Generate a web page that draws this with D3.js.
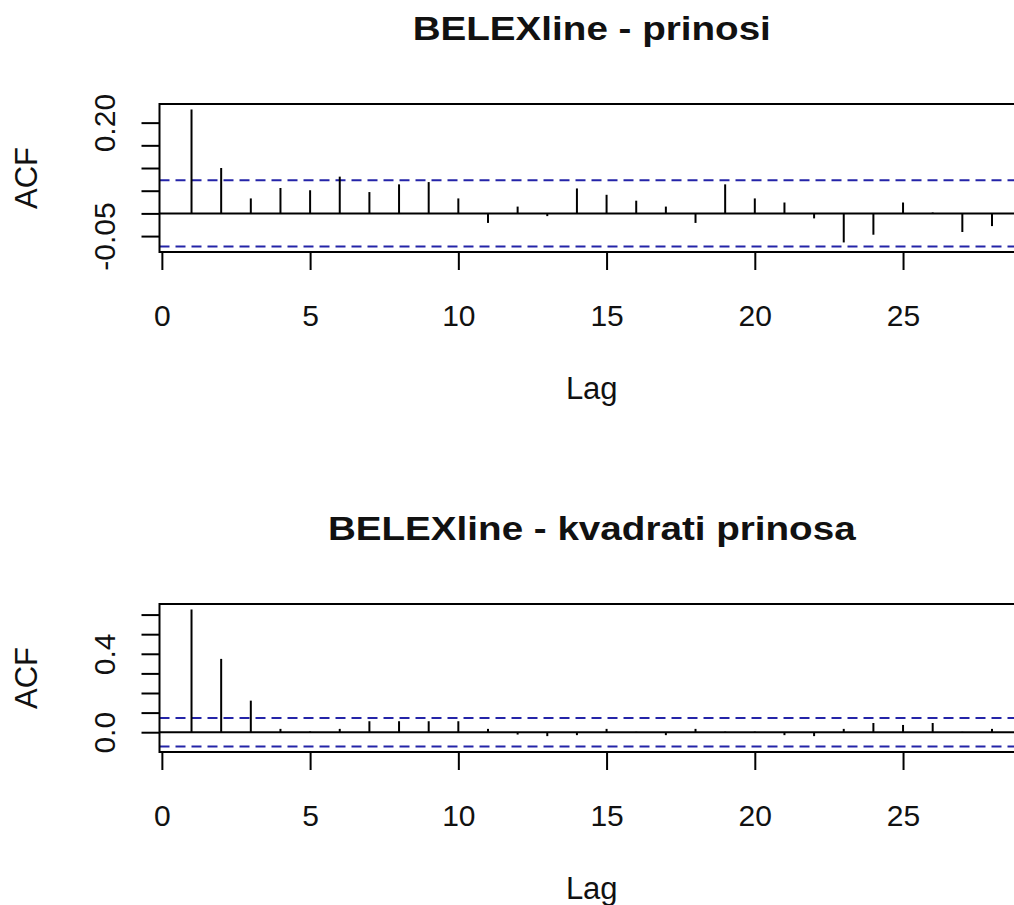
<!DOCTYPE html>
<html>
<head>
<meta charset="utf-8">
<script src="https://cdn.jsdelivr.net/npm/d3@7"></script>
<style>
  body { margin: 0; background: #fff; }
  svg { display: block; font-family: "Liberation Sans", Arial, sans-serif; }
</style>
</head>
<body>
<script>
// data
const lags = [1, 2, 3, 4, 5, 6, 7, 8, 9, 10, 11, 12, 13, 14, 15, 16, 17, 18, 19, 20, 21, 22, 23, 24, 25, 26, 27, 28];
const acfReturns = [0.229, 0.100, 0.033, 0.056, 0.051, 0.081, 0.047, 0.064, 0.069, 0.033, -0.021, 0.015, -0.006, 0.055,
  0.041, 0.028, 0.015, -0.021, 0.064, 0.033, 0.024, -0.011, -0.064, -0.047, 0.024, 0.002, -0.041, -0.028];
const acfSquares = [0.626, 0.374, 0.161, 0.017, 0.004, 0.017, 0.056, 0.056, 0.056, 0.056, 0.017, -0.012, -0.020, -0.015,
  0.017, 0.002, -0.015, 0.017, 0.003, 0.003, -0.015, -0.020, 0.017, 0.047, 0.037, 0.047, 0.002, 0.017];
const confLimit = 0.073;
const xTicks = [0, 5, 10, 15, 20, 25];
const yTicksReturns = [-0.05, 0, 0.05, 0.1, 0.15, 0.2];
const yLabelsReturns = ["-0.05", "", "", "", "", "0.20"];
const yTicksSquares = [0, 0.1, 0.2, 0.3, 0.4, 0.5, 0.6];
const yLabelsSquares = ["0.0", "", "", "", "0.4", "", ""];
const titles = ["BELEXline - prinosi", "BELEXline - kvadrati prinosa"];

const width = 1014;
const height = 905;
const plotLeft = 159.5;
const plotW = 864.5;
const plotTop = 104;
const plotH = 148;

const svg = d3.select("body").append("svg").attr("width", width).attr("height", height);

// same x scale for both panels, R style 4% padding
const xPad = (d3.max(lags) - d3.min(lags)) * 0.04;
const xScale = d3.scaleLinear()
  .domain([d3.min(lags) - xPad, d3.max(lags) + xPad])
  .range([plotLeft, plotLeft + plotW]);

const drawPanel = (offset, title, values, yTicks, yLabels) => {
  const g = svg.append("g").attr("transform", "translate(0," + offset + ")");

  const lo = Math.min(d3.min(values), -confLimit);
  const hi = Math.max(d3.max(values), confLimit);
  const pad = (hi - lo) * 0.04;
  const yScale = d3.scaleLinear().domain([lo - pad, hi + pad]).range([plotTop + plotH, plotTop]);

  //Title (the original bold face runs wider than Liberation)
  g.append("text")
    .attr("transform", "translate(" + (plotLeft + plotW / 2) + ",40) scale(1.17,1)")
    .attr("text-anchor", "middle")
    .attr("font-size", 33)
    .attr("font-weight", "bold")
    .attr("fill", "#111")
    .text(title);

  //Zero line and confidence bands
  g.append("line")
    .attr("x1", plotLeft).attr("x2", plotLeft + plotW)
    .attr("y1", yScale(0)).attr("y2", yScale(0))
    .attr("stroke", "#000").attr("stroke-width", 2);

  [confLimit, -confLimit].forEach((c) => {
    g.append("line")
      .attr("x1", plotLeft).attr("x2", plotLeft + plotW)
      .attr("y1", yScale(c)).attr("y2", yScale(c))
      .attr("stroke", "#2424a8").attr("stroke-width", 2)
      .attr("stroke-dasharray", "10,6");
  });

  //Spikes
  g.selectAll(".spike")
    .data(values)
    .enter()
    .append("line")
    .attr("class", "spike")
    .attr("x1", (d, i) => xScale(lags[i]))
    .attr("x2", (d, i) => xScale(lags[i]))
    .attr("y1", yScale(0))
    .attr("y2", (d) => yScale(d))
    .attr("stroke", "#000")
    .attr("stroke-width", 2);

  //Box
  g.append("rect")
    .attr("x", plotLeft).attr("y", plotTop)
    .attr("width", plotW).attr("height", plotH)
    .attr("fill", "none").attr("stroke", "#000").attr("stroke-width", 2);

  //Axes
  const xAxis = d3.axisBottom(xScale).tickValues(xTicks).tickSize(18).tickSizeOuter(0).tickPadding(0);
  const xg = g.append("g").attr("transform", "translate(0," + (plotTop + plotH) + ")").call(xAxis);
  xg.select(".domain").remove();
  xg.selectAll(".tick line").attr("stroke-width", 2);
  xg.selectAll(".tick text")
    .attr("font-size", 30)
    .attr("font-family", "Liberation Sans, Arial, sans-serif")
    .attr("fill", "#111")
    .attr("dy", null)
    .attr("y", 74);

  const yAxis = d3.axisLeft(yScale).tickValues(yTicks).tickSize(18).tickSizeOuter(0)
    .tickFormat((d, i) => yLabels[i]);
  const yg = g.append("g").attr("transform", "translate(" + plotLeft + ",0)").call(yAxis);
  yg.select(".domain").remove();
  yg.selectAll(".tick line").attr("stroke-width", 2);
  yg.selectAll(".tick text")
    .attr("font-size", 30)
    .attr("font-family", "Liberation Sans, Arial, sans-serif")
    .attr("fill", "#111")
    .attr("text-anchor", "middle")
    .attr("x", null)
    .attr("dy", null)
    .attr("transform", "translate(" + (115 - plotLeft) + ",0) rotate(-90)");

  //Axis titles
  g.append("text")
    .attr("x", plotLeft + plotW / 2)
    .attr("y", 399)
    .attr("text-anchor", "middle")
    .attr("font-size", 31)
    .attr("fill", "#111")
    .text("Lag");

  g.append("text")
    .attr("transform", "translate(37," + (plotTop + plotH / 2) + ") rotate(-90)")
    .attr("text-anchor", "middle")
    .attr("font-size", 31)
    .attr("fill", "#111")
    .text("ACF");
};

drawPanel(0, titles[0], acfReturns, yTicksReturns, yLabelsReturns);
drawPanel(500, titles[1], acfSquares, yTicksSquares, yLabelsSquares);
</script>
</body>
</html>
